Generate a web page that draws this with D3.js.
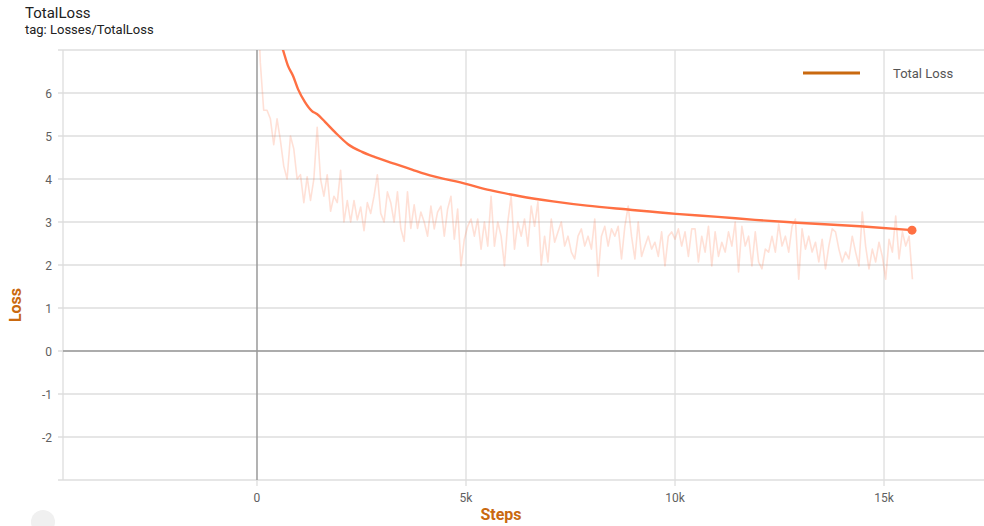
<!DOCTYPE html>
<html>
<head>
<meta charset="utf-8">
<script src="https://cdn.jsdelivr.net/npm/d3@7"></script>
<style>
  body { margin: 0; background: #fff; }
  svg { display: block; font-family: Roboto, "Noto Sans", sans-serif; }
</style>
</head>
<body>
<div id="chart"></div>
<script>
// raw loss, one value every logStep steps
const logStep = 80
const rawLoss = [
  8.6, 6.7, 5.6, 5.6, 5.4, 4.8, 5.4, 4.9, 4.3, 4.0,
  5.0, 4.7, 4.0, 4.1, 3.45, 4.05, 3.5, 4.0, 5.2, 4.0,
  3.6, 4.1, 3.25, 3.6, 3.45, 4.2, 3.0, 3.5, 3.0, 3.5,
  3.05, 3.35, 2.8, 3.45, 3.2, 3.6, 4.1, 3.2, 3.0, 3.7,
  3.45, 3.0, 3.7, 2.85, 2.55, 3.7, 2.85, 3.4, 2.85, 3.23,
  3.0, 2.67, 3.37, 2.84, 3.23, 3.37, 2.67, 3.3, 3.6, 2.6,
  3.3, 1.98, 2.6, 2.9, 3.07, 2.67, 3.07, 2.37, 3.0, 2.44,
  3.6, 2.44, 3.0, 2.67, 1.98, 3.0, 3.6, 2.37, 3.0, 2.67,
  3.07, 2.44, 3.37, 2.9, 3.47, 2.0, 2.67, 2.07, 3.07, 2.53,
  2.77, 3.0, 2.44, 2.67, 2.3, 2.14, 2.67, 2.84, 2.44, 2.67,
  2.37, 3.07, 1.74, 2.67, 2.9, 2.44, 2.84, 2.67, 2.9, 2.14,
  2.9, 3.37, 2.67, 2.14, 3.0, 2.2, 2.44, 2.67, 2.37, 2.53,
  2.2, 2.77, 1.98, 2.67, 2.77, 2.6, 2.84, 2.44, 2.77, 2.2,
  2.84, 2.84, 2.07, 2.67, 2.3, 2.9, 1.98, 2.77, 2.2, 2.53,
  2.3, 2.77, 2.44, 3.0, 1.84, 2.9, 2.44, 2.67, 1.98, 2.77,
  2.07, 1.91, 2.37, 2.3, 2.67, 2.3, 2.95, 2.44, 2.67, 2.3,
  2.9, 3.07, 1.67, 2.84, 2.37, 2.67, 2.3, 2.53, 2.07, 2.6,
  1.91, 2.44, 2.84, 2.77, 2.37, 2.07, 2.3, 2.14, 2.67, 2.3,
  1.98, 3.23, 2.44, 1.91, 2.37, 2.07, 2.53, 2.2, 1.67, 2.6,
  2.3, 3.14, 2.14, 2.77, 2.44, 2.67, 1.67
]

// smoothed curve
const smoothSteps = [0, 320, 622, 742, 861, 981, 1148, 1316, 1435, 1627, 1866, 2177, 2512, 2823,
  3301, 3708, 4019, 5023, 5574, 6291, 7081, 7894, 8874, 10022, 11027, 11912, 12821, 14424, 15670]
const smoothLoss = [9.2, 7.9, 7.0, 6.63, 6.4, 6.09, 5.79, 5.58, 5.51, 5.33, 5.09, 4.81, 4.63, 4.51,
  4.35, 4.22, 4.12, 3.88, 3.74, 3.6, 3.48, 3.38, 3.29, 3.19, 3.12, 3.05, 2.99, 2.9, 2.81]

const yGrid = [-3, -2, -1, 0, 1, 2, 3, 4, 5, 6, 7]
const yLabels = [-2, -1, 0, 1, 2, 3, 4, 5, 6]
const xTicks = [0, 5000, 10000, 15000]
const xLabels = ['0', '5k', '10k', '15k']

const W = 984, H = 526
const plotL = 63, plotR = 984, plotT = 50, plotB = 480

const x = d3.scaleLinear().domain([-4641, 17392]).range([plotL, plotR])
const y = d3.scaleLinear().domain([-3, 7]).range([plotB, plotT])

const lineColor = '#ff7043'
const labelColor = '#c9690f'
const gridColor = '#dedede'

const svg = d3.select('#chart').append('svg')
  .attr('width', W)
  .attr('height', H)

// title
svg.append('text').attr('x', 25).attr('y', 18)
  .attr('font-size', 15).attr('fill', '#212121').text('TotalLoss')
svg.append('text').attr('x', 25).attr('y', 34)
  .attr('font-size', 13).attr('fill', '#212121').text('tag: Losses/TotalLoss')

// horizontal grid + ticks
svg.append('g').selectAll('line')
  .data(yGrid)
  .join('line')
    .attr('x1', plotL - 5).attr('x2', plotR)
    .attr('y1', d => y(d)).attr('y2', d => y(d))
    .attr('stroke', gridColor).attr('stroke-width', 1.3)

// vertical grid
svg.append('g').selectAll('line')
  .data(xTicks.filter(d => d !== 0))
  .join('line')
    .attr('x1', d => x(d)).attr('x2', d => x(d))
    .attr('y1', plotT).attr('y2', plotB + 6)
    .attr('stroke', gridColor).attr('stroke-width', 1.3)

// left border
svg.append('line')
  .attr('x1', plotL).attr('x2', plotL).attr('y1', plotT).attr('y2', plotB)
  .attr('stroke', gridColor).attr('stroke-width', 1.3)

// zero lines
svg.append('line')
  .attr('x1', plotL).attr('x2', plotR).attr('y1', y(0)).attr('y2', y(0))
  .attr('stroke', '#999').attr('stroke-width', 1.5)
svg.append('line')
  .attr('x1', x(0)).attr('x2', x(0)).attr('y1', plotT).attr('y2', plotB)
  .attr('stroke', '#999').attr('stroke-width', 1.5)
svg.append('line')
  .attr('x1', x(0)).attr('x2', x(0)).attr('y1', plotB).attr('y2', plotB + 6)
  .attr('stroke', gridColor).attr('stroke-width', 1.3)

// tick labels
svg.append('g').selectAll('text')
  .data(yLabels)
  .join('text')
    .attr('x', 52).attr('y', d => y(d) + 4.5)
    .attr('text-anchor', 'end')
    .attr('font-size', 12).attr('fill', '#5f5f5f')
    .text(d => d)

svg.append('g').selectAll('text')
  .data(xTicks)
  .join('text')
    .attr('x', d => x(d)).attr('y', 502)
    .attr('text-anchor', 'middle')
    .attr('font-size', 12).attr('fill', '#5f5f5f')
    .text((d, i) => xLabels[i])

// axis titles
svg.append('text')
  .attr('transform', `translate(21,${(plotT + plotB) / 2 + 40}) rotate(-90)`)
  .attr('text-anchor', 'middle')
  .attr('font-size', 16).attr('font-weight', 'bold').attr('fill', labelColor)
  .text('Loss')
svg.append('text')
  .attr('x', 501).attr('y', 520)
  .attr('text-anchor', 'middle')
  .attr('font-size', 16).attr('font-weight', 'bold').attr('fill', labelColor)
  .text('Steps')

// lines, clipped to the plot area
svg.append('clipPath').attr('id', 'plot')
  .append('rect').attr('x', plotL).attr('y', plotT)
  .attr('width', plotR - plotL).attr('height', plotB - plotT)

const plot = svg.append('g').attr('clip-path', 'url(#plot)')

const rawLine = d3.line()
  .x((d, i) => x(i * logStep))
  .y(d => y(d))

plot.append('path')
  .datum(rawLoss)
  .attr('d', rawLine)
  .attr('fill', 'none')
  .attr('stroke', lineColor)
  .attr('stroke-opacity', 0.22)
  .attr('stroke-width', 1.6)
  .attr('stroke-linejoin', 'round')

const smoothLine = d3.line()
  .x((d, i) => x(smoothSteps[i]))
  .y(d => y(d))
  .curve(d3.curveMonotoneX)

plot.append('path')
  .datum(smoothLoss)
  .attr('d', smoothLine)
  .attr('fill', 'none')
  .attr('stroke', lineColor)
  .attr('stroke-width', 2.4)

const last = smoothLoss.length - 1
svg.append('circle')
  .attr('cx', x(smoothSteps[last])).attr('cy', y(smoothLoss[last]))
  .attr('r', 4.5)
  .attr('fill', lineColor)

// legend
svg.append('line')
  .attr('x1', 803).attr('x2', 860).attr('y1', 73).attr('y2', 73)
  .attr('stroke', labelColor).attr('stroke-width', 3)
svg.append('text')
  .attr('x', 893).attr('y', 78)
  .attr('font-size', 13).attr('fill', '#555')
  .text('Total Loss')

// little round button peeking at the bottom left
svg.append('circle')
  .attr('cx', 43).attr('cy', 522).attr('r', 12)
  .attr('fill', '#f0f0f0')
</script>
</body>
</html>
